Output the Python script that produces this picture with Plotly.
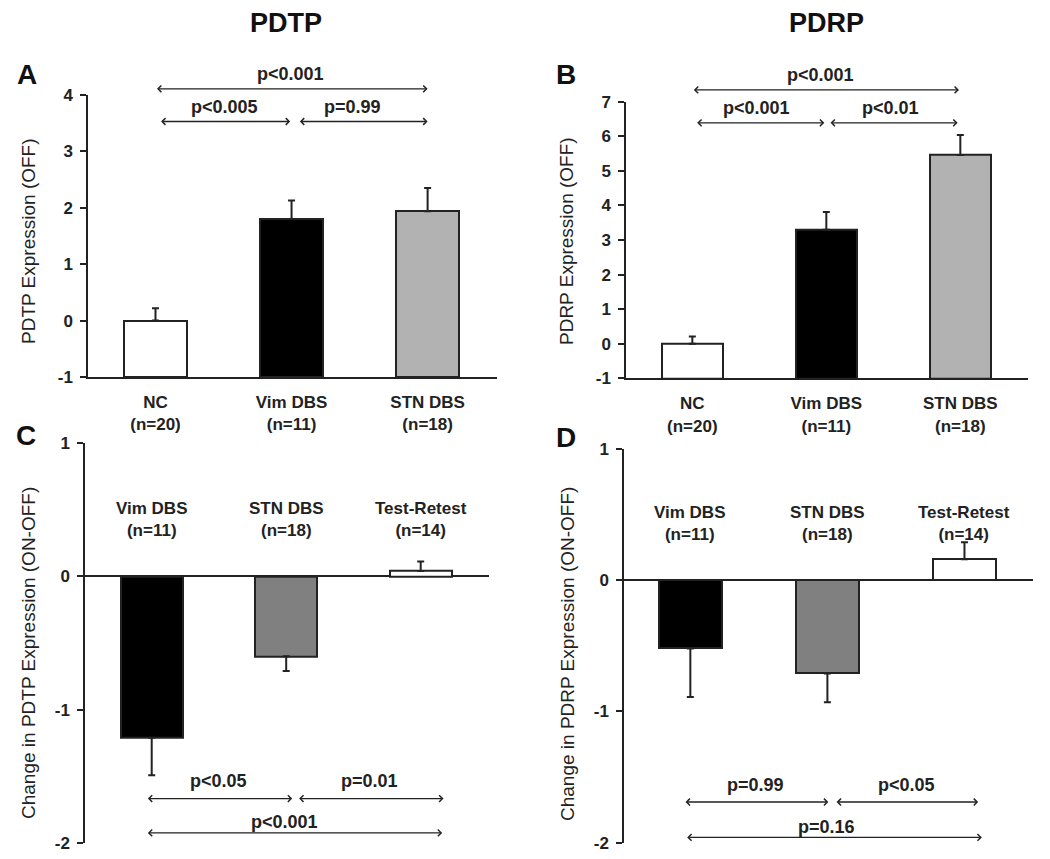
import plotly.graph_objects as go

# ---------------- data ----------------
off_groups = ["NC", "Vim DBS", "STN DBS"]
off_n = [20, 11, 18]
pdtp_off = [0.0, 1.80, 1.94]
pdtp_off_se = [0.22, 0.33, 0.41]
pdrp_off = [0.0, 3.30, 5.46]
pdrp_off_se = [0.21, 0.51, 0.58]

chg_groups = ["Vim DBS", "STN DBS", "Test-Retest"]
chg_n = [11, 18, 14]
pdtp_chg = [-1.21, -0.60, 0.04]
pdtp_chg_se = [0.28, 0.11, 0.07]
pdrp_chg = [-0.52, -0.71, 0.16]
pdrp_chg_se = [0.37, 0.22, 0.13]

off_colors = ["#ffffff", "#000000", "#b2b2b2"]
chg_colors = ["#000000", "#808080", "#ffffff"]

# comparisons: (x_start, x_end, y, label, label_x, label_y)  (y in axis units)
cmp_A = [(0.0, 2.0, 4.11, "p<0.001", 0.99, 4.38),
         (0.03, 0.99, 3.53, "p<0.005", 0.51, 3.79),
         (1.05, 2.0, 3.53, "p=0.99", 1.445, 3.79)]
cmp_B = [(0.0, 1.99, 7.34, "p<0.001", 0.96, 7.78),
         (0.025, 0.985, 6.39, "p<0.001", 0.48, 6.82),
         (1.02, 1.98, 6.39, "p<0.01", 1.48, 6.82)]
cmp_C = [(-0.04, 1.045, -1.665, "p<0.05", 0.50, -1.535),
         (1.085, 2.17, -1.665, "p=0.01", 1.62, -1.535),
         (-0.04, 2.16, -1.922, "p<0.001", 0.99, -1.84)]
cmp_D = [(-0.046, 1.007, -1.69, "p=0.99", 0.477, -1.557),
         (1.056, 2.10, -1.69, "p<0.05", 1.58, -1.557),
         (-0.034, 2.127, -1.96, "p=0.16", 0.996, -1.88)]

FONT = "Liberation Sans, Arial, sans-serif"
INK = "#222222"
PAGE_W, PAGE_H = 1050, 859
OFF = 8                      # page body margin
W, H = PAGE_W - 2 * OFF, PAGE_H - 2 * OFF


def px(xp):
    return (xp - OFF) / W


def py(yp):
    return 1 - (yp - OFF) / H


def px_dom_x(a, b):
    return [px(a), px(b)]


def px_dom_y(top, bottom):
    return [py(bottom), py(top)]


fig = go.Figure()

panels = [
    dict(ax="", ov="5", vals=pdtp_off, se=pdtp_off_se, cols=off_colors, base=-1,
         xd=px_dom_x(88, 497), yd=px_dom_y(95, 377), xr=[-0.496, 2.51], yr=[-1, 4],
         cmp=cmp_A),
    dict(ax="2", ov="6", vals=pdrp_off, se=pdrp_off_se, cols=off_colors, base=-1,
         xd=px_dom_x(626, 1028), yd=px_dom_y(101.7, 378.3), xr=[-0.495, 2.505], yr=[-1, 7],
         cmp=cmp_B),
    dict(ax="3", ov="7", vals=pdtp_chg, se=pdtp_chg_se, cols=chg_colors, base=0,
         xd=px_dom_x(85, 489), yd=px_dom_y(442.7, 843.3), xr=[-0.496, 2.508], yr=[-2, 1],
         cmp=cmp_C),
    dict(ax="4", ov="8", vals=pdrp_chg, se=pdrp_chg_se, cols=chg_colors, base=0,
         xd=px_dom_x(624, 1033), yd=px_dom_y(449, 842.7), xr=[-0.484, 2.50], yr=[-2, 1],
         cmp=cmp_D),
]

annotations = []
for i, p in enumerate(panels):
    xa = "x" + p["ax"]
    ya = "y" + p["ax"]
    base = p["base"]
    vals = p["vals"]
    se = p["se"]
    up = [s if v >= 0 else 0 for v, s in zip(vals, se)]
    dn = [s if v < 0 else 0 for v, s in zip(vals, se)]
    fig.add_trace(go.Bar(
        x=[0, 1, 2], y=[v - base for v in vals], base=base,
        width=0.46,
        marker=dict(color=p["cols"], line=dict(color=INK, width=2)),
        error_y=dict(type="data", symmetric=False, array=up, arrayminus=dn,
                     color=INK, thickness=2, width=3.5),
        xaxis=xa, yaxis=ya, showlegend=False, hoverinfo="skip",
    ))
    is_off = i < 2
    xkey = "xaxis" + p["ax"]
    ykey = "yaxis" + p["ax"]
    y0, y1 = p["yr"]
    tickvals_y = list(range(y0, y1 + 1))
    xaxis_cfg = dict(domain=p["xd"], range=p["xr"], anchor=ya, fixedrange=True,
                     automargin=False,
                     showgrid=False, zeroline=False, ticks="",
                     tickvals=[0, 1, 2])
    if is_off:
        xaxis_cfg.update(showline=True, linecolor=INK, linewidth=1.5,
                         ticktext=[f"{g}<br>(n={n})" for g, n in zip(off_groups, off_n)],
                         tickfont=dict(family=FONT, size=17, color=INK, weight="bold"),
                         ticklabelstandoff=9)
    else:
        xaxis_cfg.update(showline=False, showticklabels=False)
    yaxis_cfg = dict(domain=p["yd"], range=p["yr"], anchor=xa, fixedrange=True,
                     automargin=False,
                     showgrid=False, showline=True, linecolor=INK, linewidth=1.5,
                     ticks="outside", ticklen=6, tickwidth=1.5, tickcolor=INK,
                     tickvals=tickvals_y, ticktext=[str(v) for v in tickvals_y],
                     tickfont=dict(family=FONT, size=17, color=INK, weight="bold"),
                     ticklabelstandoff=4, ticklabeloverflow="allow",
                     zeroline=not is_off, zerolinecolor=INK, zerolinewidth=1.5)
    # overlay axis supplying the inner half of each tick (ticks cross the axis)
    ov_cfg = dict(domain=p["yd"], range=p["yr"], anchor=xa, overlaying=ya,
                  fixedrange=True, automargin=False, showgrid=False, showline=False,
                  zeroline=False, ticks="inside", ticklen=6, tickwidth=1.5,
                  tickcolor=INK, tickvals=tickvals_y, showticklabels=False)
    fig.update_layout({xkey: xaxis_cfg, ykey: yaxis_cfg, "yaxis" + p["ov"]: ov_cfg})

    # comparison arrows and p-values (placed in the y-domain frame so they may
    # sit above the top of the axis)
    ydom = ya + " domain"
    frac = lambda v: (v - y0) / (y1 - y0)
    for (x0, x1, yv, lab, lx, ly) in p["cmp"]:
        annotations.append(dict(x=x1, y=frac(yv), ax=x0, ay=frac(yv), xref=xa, yref=ydom,
                                axref=xa, ayref=ydom, text="", showarrow=True,
                                arrowhead=4, startarrowhead=4, arrowside="end+start",
                                arrowsize=1, startarrowsize=1, arrowwidth=1.3,
                                arrowcolor=INK, standoff=0, startstandoff=0))
        annotations.append(dict(x=lx, y=frac(ly), xref=xa, yref=ydom, text=lab,
                                showarrow=False, xanchor="center", yanchor="middle",
                                font=dict(family=FONT, size=18, color=INK, weight="bold")))

    if not is_off:
        ylab = 0.425 if i == 2 else 0.43
        for k, (g, n) in enumerate(zip(chg_groups, chg_n)):
            annotations.append(dict(x=k, y=ylab, xref=xa, yref=ya,
                                    text=f"{g}<br>(n={n})", showarrow=False,
                                    xanchor="center", yanchor="middle",
                                    font=dict(family=FONT, size=17, color=INK, weight="bold")))

# y-axis titles
ytitles = [("PDTP Expression (OFF)", 28, 241),
           ("PDRP Expression (OFF)", 566, 241),
           ("Change in PDTP Expression (ON-OFF)", 28, 653),
           ("Change in PDRP Expression (ON-OFF)", 567, 654)]
for t, xp, yp in ytitles:
    annotations.append(dict(x=px(xp), y=py(yp), xref="paper", yref="paper",
                            text=t, textangle=-90, showarrow=False,
                            xanchor="center", yanchor="middle",
                            font=dict(family=FONT, size=19, color=INK)))

# panel letters
for t, xp, yp in [("A", 27, 75), ("B", 566, 75), ("C", 26, 435), ("D", 566, 437)]:
    annotations.append(dict(x=px(xp), y=py(yp), xref="paper", yref="paper",
                            text=t, showarrow=False, xanchor="center", yanchor="middle",
                            font=dict(family=FONT, size=28, color="#111111", weight="bold")))

# column titles
for t, xp in [("PDTP", 286), ("PDRP", 826)]:
    annotations.append(dict(x=px(xp), y=py(23), xref="paper", yref="paper",
                            text=t, showarrow=False, xanchor="center", yanchor="middle",
                            font=dict(family=FONT, size=27, color="#111111", weight="bold")))

fig.update_layout(
    width=W, height=H,
    margin=dict(l=0, r=0, t=0, b=0, autoexpand=False),
    paper_bgcolor="white", plot_bgcolor="white",
    bargap=0, annotations=annotations,
    font=dict(family=FONT, color=INK),
)

fig.write_html("out.html")
